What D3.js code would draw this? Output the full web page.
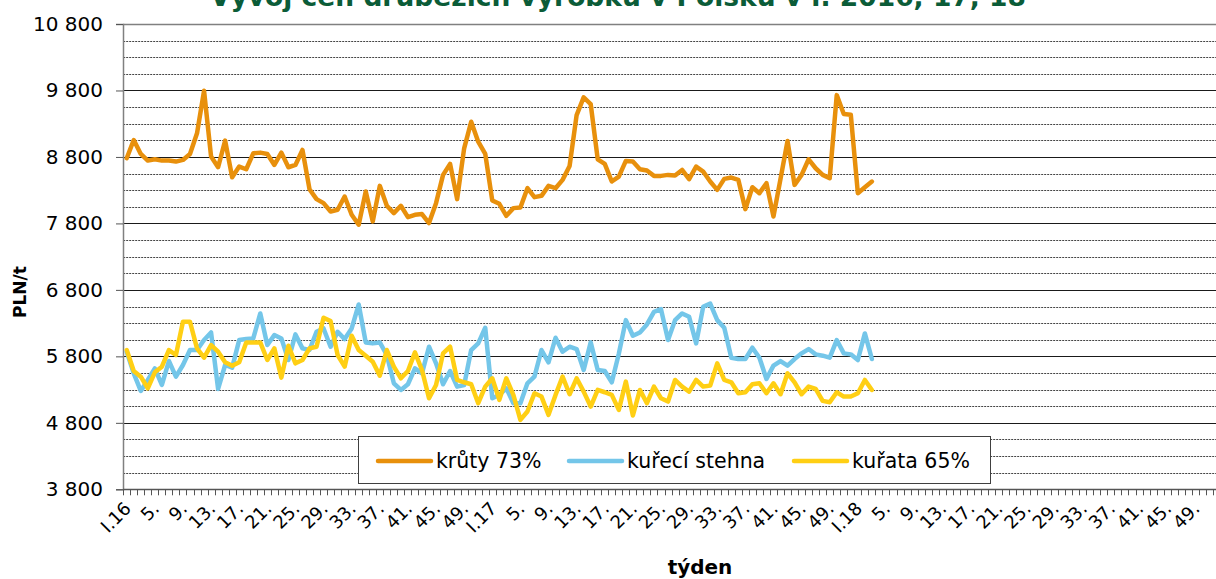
<!DOCTYPE html>
<html>
<head>
<meta charset="utf-8">
<script src="https://cdn.jsdelivr.net/npm/d3@7"></script>
<style>
  body { margin: 0; background: #fff; }
  svg { display: block; font-family: "DejaVu Sans", Verdana, sans-serif; }
</style>
</head>
<body>
<script>
// weeks of the three years, one category per week
var years = ["16", "17", "18"];
var weekNums = d3.range(1, 53);
var categories = [];
years.forEach(function (y) {
  weekNums.forEach(function (w) { categories.push(w + "." + y); });
});
// every 4th week gets a label
var labelWeeks = [1, 5, 9, 13, 17, 21, 25, 29, 33, 37, 41, 45, 49];

var seriesNames = ["krůty 73%", "kuřecí stehna", "kuřata 65%"];
var seriesColors = ["#E8900C", "#74C6E9", "#FFCF14"];

// PLN/t, weekly, from week 1 of 2016
var turkey = [8780, 9055, 8845, 8745, 8765, 8745, 8745, 8730, 8755, 8845,
  9155, 9795, 8805, 8645, 9045, 8495, 8655, 8615, 8855, 8865,
  8845, 8680, 8865, 8645, 8680, 8905, 8315, 8165, 8105, 7980,
  8005, 8205, 7930, 7780, 8280, 7830, 8365, 8065, 7955, 8065,
  7895, 7930, 7940, 7805, 8105, 8530, 8695, 8165, 8930, 9330,
  9030, 8845, 8145, 8095, 7915, 8030, 8040, 8330, 8195, 8215,
  8365, 8330, 8455, 8665, 9430, 9695, 9595, 8765, 8695, 8430,
  8505, 8740, 8730, 8615, 8595, 8515, 8515, 8530, 8520, 8605,
  8465, 8655, 8580, 8430, 8305, 8470, 8490, 8455, 8015, 8345,
  8255, 8405, 7905, 8470, 9040, 8380, 8530, 8765, 8630, 8530,
  8480, 9730, 9445, 9435, 8255, 8345, 8430];

var legs = [5870, 5545, 5280, 5445, 5620, 5370, 5730, 5495, 5670, 5895,
  5895, 6045, 6160, 5310, 5670, 5630, 6045, 6060, 6070, 6445,
  5970, 6120, 6070, 5745, 6130, 5920, 5895, 6170, 6220, 5945,
  6170, 6060, 6220, 6580, 6010, 5995, 6010, 5820, 5395, 5295,
  5380, 5620, 5545, 5945, 5695, 5380, 5580, 5345, 5370, 5895,
  5995, 6230, 5170, 5220, 5320, 5095, 5095, 5395, 5495, 5895,
  5710, 6080, 5870, 5945, 5910, 5595, 6010, 5595, 5580, 5410,
  5840, 6345, 6110, 6160, 6280, 6470, 6510, 6045, 6345, 6445,
  6395, 5995, 6545, 6595, 6345, 6230, 5780, 5760, 5760, 5930,
  5780, 5460, 5660, 5730, 5660, 5760, 5845, 5910, 5830, 5810,
  5780, 6045, 5845, 5830, 5745, 6145, 5760];

var chicken = [5895, 5580, 5495, 5320, 5560, 5645, 5895, 5820, 6320, 6320,
  5920, 5780, 5970, 5870, 5710, 5660, 5710, 6010, 6010, 6010,
  5745, 5920, 5480, 5960, 5695, 5745, 5920, 5945, 6380, 6330,
  5820, 5645, 6110, 5895, 5810, 5720, 5510, 5895, 5645, 5470,
  5580, 5860, 5595, 5170, 5370, 5845, 5945, 5445, 5410, 5380,
  5095, 5345, 5470, 5145, 5470, 5220, 4845, 4970, 5245, 5195,
  4920, 5220, 5495, 5230, 5470, 5270, 5045, 5295, 5260, 5220,
  4995, 5420, 4910, 5295, 5095, 5345, 5170, 5120, 5445, 5345,
  5270, 5445, 5345, 5360, 5695, 5445, 5410, 5245, 5260, 5380,
  5395, 5245, 5395, 5230, 5545, 5410, 5230, 5345, 5310, 5130,
  5110, 5260, 5195, 5195, 5245, 5445, 5295];

var yMajor = [3800, 4800, 5800, 6800, 7800, 8800, 9800, 10800];

var width = 1216, height = 579;
var plotLeft = 123.2, plotTop = 24, plotBottom = 489.3, step = 7.03;

var svg = d3.select("body").append("svg")
  .attr("width", width)
  .attr("height", height);

var x = d3.scaleBand()
  .domain(categories)
  .range([plotLeft, plotLeft + step * categories.length]);

var y = d3.scaleLinear()
  .domain([3800, 10800])
  .range([plotBottom, plotTop]);

function yy(d) { return Math.round(y(d)) + 0.5; }

// minor grid every 250
var minor = d3.range(3800, 10801, 250).filter(function (v) { return yMajor.indexOf(v) < 0; });
svg.append("g").selectAll("line")
  .data(minor)
  .enter().append("line")
  .attr("x1", plotLeft).attr("x2", width)
  .attr("y1", yy).attr("y2", yy)
  .attr("stroke", "#444")
  .attr("stroke-dasharray", "2,1");

// major grid
svg.append("g").selectAll("line")
  .data(yMajor.slice(1, -1))
  .enter().append("line")
  .attr("x1", plotLeft).attr("x2", width)
  .attr("y1", yy).attr("y2", yy)
  .attr("stroke", "#1a1a1a");

// top border
svg.append("line")
  .attr("x1", plotLeft).attr("x2", width)
  .attr("y1", yy(10800)).attr("y2", yy(10800))
  .attr("stroke", "#808080").attr("stroke-width", 1.5);

// y axis
var yaxis = d3.axisLeft(y)
  .tickValues(yMajor)
  .tickSize(7)
  .tickPadding(13)
  .tickFormat(function (d) { return d3.format(",")(d).replace(",", " "); });
var gy = svg.append("g")
  .attr("transform", "translate(" + Math.round(plotLeft) + ",0)")
  .call(yaxis);
gy.select(".domain").attr("stroke", "#808080").attr("stroke-width", 1.5);
gy.selectAll(".tick line").attr("stroke", "#555");
gy.selectAll("text")
  .attr("font-size", 20)
  .attr("font-family", "DejaVu Sans, sans-serif")
  .attr("fill", "#000");

// x axis line
svg.append("line")
  .attr("x1", plotLeft).attr("x2", width)
  .attr("y1", yy(3800)).attr("y2", yy(3800))
  .attr("stroke", "#555").attr("stroke-width", 1.5);

// category tick marks at boundaries
svg.append("g").selectAll("line")
  .data(categories)
  .enter().append("line")
  .attr("x1", function (d) { return Math.round(x(d)) + 0.5; })
  .attr("x2", function (d) { return Math.round(x(d)) + 0.5; })
  .attr("y1", plotBottom).attr("y2", plotBottom + 6)
  .attr("stroke", "#555");

// category labels
var labelled = categories.filter(function (c) {
  return labelWeeks.indexOf(+c.split(".")[0]) >= 0;
});
svg.append("g").selectAll("text")
  .data(labelled)
  .enter().append("text")
  .attr("transform", function (d) {
    var cx = x(d) + x.bandwidth() / 2;
    return "translate(" + (cx + 1) + "," + (plotBottom + 16) + ") rotate(-45)";
  })
  .attr("text-anchor", "end")
  .attr("dy", "0.35em")
  .attr("font-size", 18)
  .text(function (d) {
    var p = d.split(".");
    return p[0] === "1" ? "I." + p[1] : p[0] + ".";
  });

// lines
var line = d3.line()
  .x(function (d, i) { return x(categories[i]) + x.bandwidth() / 2; })
  .y(function (d) { return y(d); });

[turkey, legs, chicken].forEach(function (s, k) {
  svg.append("path")
    .datum(s)
    .attr("d", line)
    .attr("fill", "none")
    .attr("stroke", seriesColors[k])
    .attr("stroke-width", 4.5)
    .attr("stroke-linejoin", "round")
    .attr("stroke-linecap", "round");
});

// legend
var lg = svg.append("g");
lg.append("rect")
  .attr("x", 358.5).attr("y", 436.5)
  .attr("width", 632).attr("height", 47)
  .attr("fill", "#fff").attr("stroke", "#404040");
var legendX = [378, 569, 794];
seriesNames.forEach(function (n, k) {
  lg.append("line")
    .attr("x1", legendX[k]).attr("x2", legendX[k] + 53)
    .attr("y1", 461).attr("y2", 461)
    .attr("stroke", seriesColors[k])
    .attr("stroke-width", 4.5)
    .attr("stroke-linecap", "round");
  lg.append("text")
    .attr("x", legendX[k] + 58).attr("y", 461)
    .attr("dy", "0.35em")
    .attr("font-size", 20.5)
    .text(n);
});

// titles
svg.append("text")
  .attr("x", 618).attr("y", 6)
  .attr("text-anchor", "middle")
  .attr("font-size", 26.5)
  .attr("font-weight", "bold")
  .attr("fill", "#0B5C38")
  .text("Vývoj cen drůbežích výrobků v Polsku v r. 2016, 17, 18");

svg.append("text")
  .attr("transform", "translate(26,292) rotate(-90)")
  .attr("text-anchor", "middle")
  .attr("font-size", 17)
  .attr("font-weight", "bold")
  .text("PLN/t");

svg.append("text")
  .attr("x", 700).attr("y", 574)
  .attr("text-anchor", "middle")
  .attr("font-size", 20)
  .attr("font-weight", "bold")
  .text("týden");
</script>
</body>
</html>
